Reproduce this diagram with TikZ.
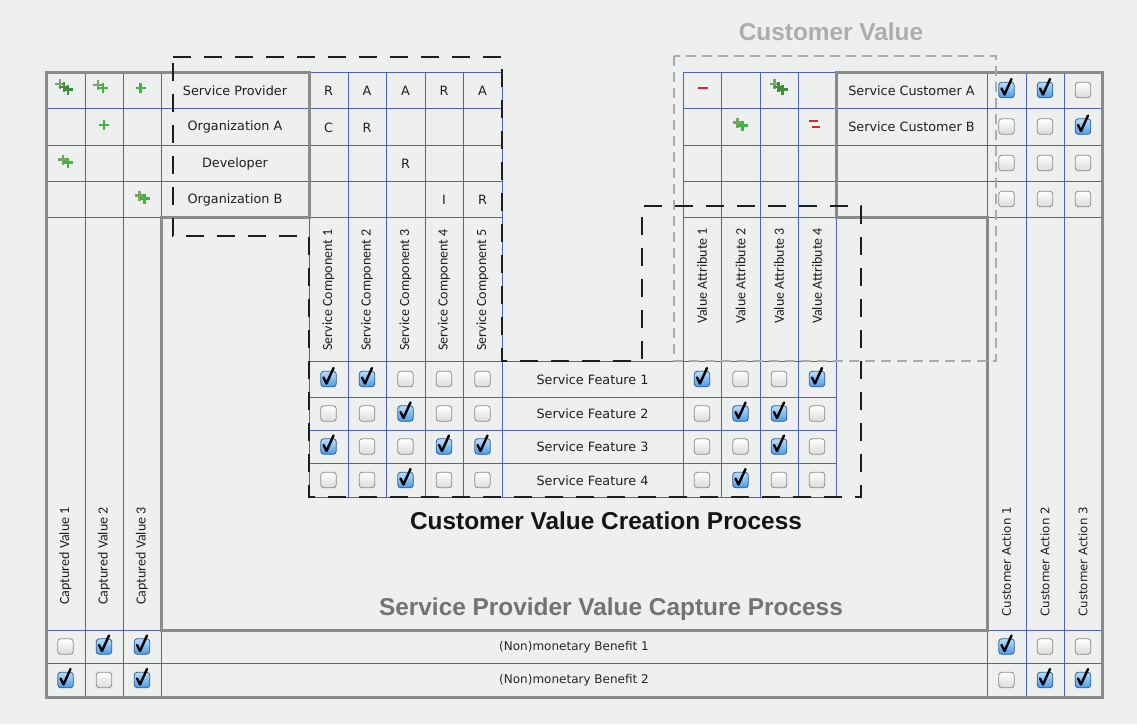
\documentclass[tikz,border=0pt]{standalone}
\usepackage{fontspec}
\setmainfont{DejaVu Sans}
\newfontfamily\calib{Carlito}
\newfontfamily\headfont{Liberation Sans}
\definecolor{bg}{HTML}{EEEFEF}
\definecolor{framegray}{HTML}{8A8A8A}
\definecolor{gridblue}{HTML}{4F61BA}
\definecolor{dashblack}{HTML}{1E1E1E}
\definecolor{dashgray}{HTML}{ABABAB}
\definecolor{plusgreen}{HTML}{3DB63D}
\definecolor{plusdark}{HTML}{3E8E3E}
\definecolor{pluslight}{HTML}{74A660}
\definecolor{minusred}{HTML}{E02424}
\definecolor{chkblue}{HTML}{4A9BE8}
\definecolor{chkbluelight}{HTML}{B9DEFA}
\definecolor{chkedge}{HTML}{2F5F95}
\definecolor{boxedge}{HTML}{8C8C8C}
\newcounter{cbn}
\newcommand\cbx[3]{%
  \stepcounter{cbn}%
  \ifnum#3=1
    \node[cbon] (cb\arabic{cbn}) at (#1,#2) {};
    \draw[chk] ({#1-5},{#2-1.5}) -- ({#1-2},{#2+4.5}) -- ({#1+5},{#2-11});
  \else
    \node[cboff] (cb\arabic{cbn}) at (#1,#2) {};
  \fi}
\newcommand\cbline[2]{\foreach \cx/\cs in {#2}{\cbx{\cx}{#1}{\cs}}}
\newcommand\plusat[3]{\draw[#3] ({#1-5},{#2}) -- ({#1+5},{#2}) ({#1},{#2-5}) -- ({#1},{#2+5});}
\newcommand\pone[2]{\plusat{#1}{#2}{pl,plusgreen}}
\newcommand\ptwo[2]{\plusat{#1-2.5}{#2-1.5}{pl,pluslight}\plusat{#1+2.5}{#2+1.5}{pl,plusgreen}}
\newcommand\pthree[2]{\plusat{#1-4}{#2-3}{pl,pluslight}\plusat{#1}{#2}{pl,plusdark}\plusat{#1+4}{#2+2.5}{pl,plusdark}}
\newcommand\mone[2]{\draw[mn] ({#1-5},{#2}) -- ({#1+5},{#2});}
\newcommand\mtwo[2]{\draw[mn] ({#1-6},{#2-3}) -- ({#1+3},{#2-3}) ({#1-3},{#2+3}) -- ({#1+5},{#2+3});}
\begin{document}
\begin{tikzpicture}[x=1pt,y=-1pt,
  frame/.style={draw=framegray, line width=3pt, line join=miter},
  grid/.style={draw=gridblue, line width=1pt},
  lbl/.style={font=\fontsize{12.8}{14}\selectfont, text=black!88, inner sep=0pt},
  sml/.style={font=\fontsize{12}{14}\selectfont, text=black!85, inner sep=0pt},
  vlbl/.style={font=\calib\fontsize{14}{16}\selectfont, text=black!88, rotate=90, anchor=east, inner sep=0pt},
  valbl/.style={font=\fontsize{11.8}{14}\selectfont, text=black!88, rotate=90, anchor=east, inner sep=0pt},
  cboff/.style={rounded corners=3pt, minimum width=15.5pt, minimum height=15.5pt, inner sep=0pt, draw=boxedge, line width=0.8pt, top color=white, bottom color=black!14},
  cbon/.style={rounded corners=3pt, minimum width=15.5pt, minimum height=15.5pt, inner sep=0pt, draw=chkedge, line width=0.8pt, top color=chkbluelight, bottom color=chkblue},
  chk/.style={draw=black, line width=2.4pt, line cap=round, line join=round},
  pl/.style={line width=2.3pt},
  mn/.style={draw=minusred, line width=2.2pt},
  bdash/.style={draw=dashblack, line width=2.6pt, dash pattern=on 18pt off 13pt},
  gdash/.style={draw=dashgray, line width=2pt, dash pattern=on 10pt off 6pt},
  title/.style={font=\headfont\bfseries\fontsize{24.4}{28}\selectfont, inner sep=0pt}
]
\fill[bg] (0,0) rectangle (1137,724);
\useasboundingbox (0,0) rectangle (1137,724);

% ---------- blue grid ----------
\draw[grid] (85,72) -- (85,697) (123,72) -- (123,697) (161,72) -- (161,217) (161,630) -- (161,697);
\foreach \y in {108,145,181} {\draw[grid] (46,\y) -- (309,\y);}
\draw[grid] (46,217) -- (161,217);
\draw[grid] (309,72) -- (502,72);
\foreach \y in {108,145,181,217} {\draw[grid] (309,\y) -- (502,\y);}
\foreach \x in {348,386,425,463,502} {\draw[grid] (\x,72) -- (\x,497);}
\draw[grid] (309,217) -- (309,497);
\foreach \y in {361,397,430,463,497} {\draw[grid] (309,\y) -- (836,\y);}
\draw[grid] (683,72) -- (836,72);
\foreach \y in {108,145,181} {\draw[grid] (683,\y) -- (1102,\y);}
\draw[grid] (683,217) -- (836,217) (987,217) -- (1102,217);
\foreach \x in {683,721,760,798,836} {\draw[grid] (\x,72) -- (\x,497);}
\draw[grid] (987,72) -- (987,217) (987,630) -- (987,697);
\draw[grid] (1026,72) -- (1026,697) (1064,72) -- (1064,697);
\draw[grid] (46,663) -- (1102,663) (46,630) -- (161,630) (987,630) -- (1102,630);

% ---------- gray frame ----------
\draw[frame] (46,72) -- (309,72) -- (309,217) -- (161,217) -- (161,630) -- (987,630)
  -- (987,217) -- (836,217) -- (836,72) -- (1102,72) -- (1102,697) -- (46,697) -- cycle;

% ---------- dashed regions ----------
\draw[gdash] (674,56) rectangle (996,361);
\draw[bdash] (173,57) -- (502,57) -- (502,361) -- (642,361) -- (642,206) -- (861,206)
  -- (861,497) -- (309,497) -- (309,236) -- (173,236) -- cycle;

% ---------- titles ----------
\node[title, text=black!32] (cvtitle) at (831,32) {Customer Value};
\node[title, text=black!92] (cvcp) at (606,521) {Customer Value Creation Process};
\node[title, text=black!55] (spvcp) at (611,609) {Service Provider Value Capture Process};

% ---------- role names ----------
\node[lbl] (sp)  at (235,90.5)  {Service Provider};
\node[lbl] (oa)  at (235,127)   {Organization A};
\node[lbl] (dev) at (235,163.5) {Developer};
\node[lbl] (ob)  at (235,199.5) {Organization B};

% ---------- RACI letters ----------
\node[lbl] (r11) at (328.5,91) {R};
\node[lbl] (r12) at (367,91)   {A};
\node[lbl] (r13) at (405.5,91) {A};
\node[lbl] (r14) at (444,91)   {R};
\node[lbl] (r15) at (482.5,91) {A};
\node[lbl] (r21) at (328.5,127.5) {C};
\node[lbl] (r22) at (367,127.5)   {R};
\node[lbl] (r33) at (405.5,164)   {R};
\node[lbl] (r44) at (444,200)     {I};
\node[lbl] (r45) at (482.5,200)   {R};

% ---------- customers ----------
\node[lbl] (sca) at (911.5,90.5) {Service Customer A};
\node[lbl] (scb) at (911.5,127)  {Service Customer B};

% ---------- vertical labels ----------
\node[vlbl] (sc1) at (328.5,229) {Service Component 1};
\node[vlbl] (sc2) at (367,229)   {Service Component 2};
\node[vlbl] (sc3) at (405.5,229) {Service Component 3};
\node[vlbl] (sc4) at (444,229)   {Service Component 4};
\node[vlbl] (sc5) at (482.5,229) {Service Component 5};
\node[vlbl] (va1) at (702,228)   {Value Attribute 1};
\node[vlbl] (va2) at (740.5,228) {Value Attribute 2};
\node[vlbl] (va3) at (779,228)   {Value Attribute 3};
\node[vlbl] (va4) at (817,228)   {Value Attribute 4};
\node[vlbl] (cv1) at (65.5,507)  {Captured Value 1};
\node[vlbl] (cv2) at (104,507)   {Captured Value 2};
\node[vlbl] (cv3) at (142,507)   {Captured Value 3};
\node[valbl] (ca1) at (1006.5,507) {Customer Action 1};
\node[valbl] (ca2) at (1045,507)   {Customer Action 2};
\node[valbl] (ca3) at (1083,507)   {Customer Action 3};

% ---------- features & benefits ----------
\node[lbl] (sf1) at (592.5,379.5) {Service Feature 1};
\node[lbl] (sf2) at (592.5,413.5) {Service Feature 2};
\node[lbl] (sf3) at (592.5,447)   {Service Feature 3};
\node[lbl] (sf4) at (592.5,480.5) {Service Feature 4};
\node[sml] (nb1) at (574,647) {(Non)monetary Benefit 1};
\node[sml] (nb2) at (574,680.5) {(Non)monetary Benefit 2};

% ---------- pluses and minuses ----------
\pthree{64}{87}
\ptwo{100.5}{86.5}
\pone{140.5}{88}
\pone{104}{125}
\ptwo{65.5}{161}
\ptwo{142}{197}
\mone{703}{88}
\pthree{778.5}{87}
\ptwo{740}{124}
\mtwo{815}{124}

% ---------- checkboxes ----------
\cbline{379}{328.5/1,367/1,405.5/0,444/0,482.5/0,702/1,740.5/0,779/0,817/1}
\cbline{413.5}{328.5/0,367/0,405.5/1,444/0,482.5/0,702/0,740.5/1,779/1,817/0}
\cbline{446.5}{328.5/1,367/0,405.5/0,444/1,482.5/1,702/0,740.5/0,779/1,817/0}
\cbline{480}{328.5/0,367/0,405.5/1,444/0,482.5/0,702/0,740.5/1,779/0,817/0}
\cbline{90}{1006.5/1,1045/1,1083/0}
\cbline{126.5}{1006.5/0,1045/0,1083/1}
\cbline{163}{1006.5/0,1045/0,1083/0}
\cbline{199}{1006.5/0,1045/0,1083/0}
\cbline{646.5}{65.5/0,104/1,142/1,1006.5/1,1045/0,1083/0}
\cbline{680}{65.5/1,104/0,142/1,1006.5/0,1045/1,1083/1}
\end{tikzpicture}
\end{document}
